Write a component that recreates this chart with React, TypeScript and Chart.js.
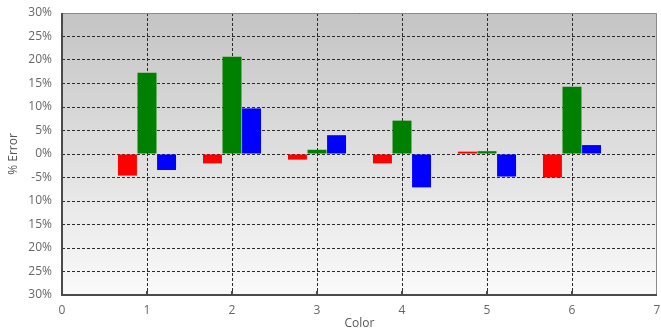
import React, { useEffect, useRef } from "react";
import { Chart, registerables } from "chart.js";

Chart.register(...registerables);

// Color index of each group
const colors = [1, 2, 3, 4, 5, 6];
// Percent error per channel
const redErr = [-4.6, -2.0, -1.2, -2.0, 0.5, -5.0];
const greenErr = [17.3, 20.7, 0.9, 7.1, 0.6, 14.3];
const blueErr = [-3.4, 9.7, 4.0, -7.1, -4.8, 1.9];
// Tick labels on the value axis, from bottom (-30) to top (+30)
const yTickLabels = ["30%", "25%", "20%", "15%", "10%", "-5%", "0%", "5%", "10%", "15%", "20%", "25%", "30%"];
const xTickLabels = ["0", "1", "2", "3", "4", "5", "6", "7"];

const FONT = "'Open Sans', 'DejaVu Sans', sans-serif";

const plotFrame = {
  id: "plotFrame",
  beforeDraw(chart: any) {
    const { ctx, chartArea: a } = chart;
    const g = ctx.createLinearGradient(0, a.top, 0, a.bottom);
    g.addColorStop(0, "#c4c4c4");
    g.addColorStop(1, "#fafafa");
    ctx.save();
    ctx.fillStyle = g;
    ctx.fillRect(a.left, a.top, a.right - a.left, a.bottom - a.top);
    ctx.restore();
  },
  afterDraw(chart: any) {
    const { ctx, chartArea: a } = chart;
    ctx.save();
    ctx.lineWidth = 1;
    ctx.strokeStyle = "#8a8a8a";
    ctx.beginPath();
    ctx.moveTo(a.left, a.top + 0.5);
    ctx.lineTo(a.right - 0.5, a.top + 0.5);
    ctx.lineTo(a.right - 0.5, a.bottom);
    ctx.stroke();
    ctx.lineWidth = 2;
    ctx.strokeStyle = "#4a4a4a";
    ctx.beginPath();
    ctx.moveTo(a.left, a.top);
    ctx.lineTo(a.left, a.bottom);
    ctx.lineTo(a.right, a.bottom);
    ctx.stroke();
    // short tick marks under the category axis
    const xs = chart.scales.x;
    ctx.lineWidth = 2;
    for (const c of colors) {
      const px = Math.round(xs.getPixelForValue(c));
      ctx.beginPath();
      ctx.moveTo(px, a.bottom - 4);
      ctx.lineTo(px, a.bottom + 1);
      ctx.stroke();
    }
    ctx.restore();
  },
};

export default function App() {
  const ref = useRef<HTMLCanvasElement>(null);

  useEffect(() => {
    const mk = (vals: number[]) => colors.map((c, i) => ({ x: c, y: vals[i] }));
    const barStyle = { categoryPercentage: 0.69, barPercentage: 0.97, borderWidth: 0 };
    const chart = new Chart(ref.current!, {
      type: "bar",
      data: {
        datasets: [
          { label: "R", data: mk(redErr), backgroundColor: "#ff0000", ...barStyle },
          { label: "G", data: mk(greenErr), backgroundColor: "#008000", ...barStyle },
          { label: "B", data: mk(blueErr), backgroundColor: "#0000ff", ...barStyle },
        ],
      },
      options: {
        animation: false,
        responsive: false,
        maintainAspectRatio: false,
        layout: { padding: { top: 13, right: 4, left: 6, bottom: 0 } },
        plugins: { legend: { display: false }, tooltip: { enabled: false } },
        scales: {
          x: {
            type: "linear",
            offset: false,
            min: 0,
            max: 7,
            border: { display: false, dash: [3, 2] },
            grid: {
              offset: false,
              color: (c: any) => (c.tick && c.tick.value > 0 && c.tick.value < 7 ? "#2a2a2a" : "rgba(0,0,0,0)"),
              lineWidth: 1,
              drawTicks: false,
            },
            ticks: {
              stepSize: 1,
              padding: 8,
              color: "#666",
              font: { family: FONT, size: 12 },
              callback: (v: any) => xTickLabels[Number(v)],
            },
            title: {
              display: true,
              text: "Color",
              color: "#555",
              font: { family: FONT, size: 12 },
              padding: { top: 0, bottom: 0 },
            },
            afterFit: (s: any) => {
              s.height = 36;
              s.paddingLeft = 0;
              s.paddingRight = 0;
            },
          } as any,
          y: {
            min: -30,
            max: 30,
            border: { display: false, dash: [3, 2] },
            grid: {
              color: "#2a2a2a",
              lineWidth: 1,
              drawTicks: false,
            },
            ticks: {
              stepSize: 5,
              padding: 10,
              color: "#666",
              font: { family: FONT, size: 12 },
              callback: (v: any) => yTickLabels[Math.round((Number(v) + 30) / 5)],
            },
            title: {
              display: true,
              text: "% Error",
              color: "#555",
              font: { family: FONT, size: 12 },
              padding: { top: 0, bottom: 0 },
            },
            afterFit: (s: any) => {
              s.width = 56;
              s.paddingTop = 0;
              s.paddingBottom = 0;
            },
          } as any,
        },
      },
      plugins: [plotFrame],
    });
    return () => chart.destroy();
  }, []);

  return (
    <div style={{ position: "fixed", left: 0, top: 0, width: 661, height: 331, background: "#fff" }}>
      <canvas ref={ref} width={661} height={331} style={{ width: 661, height: 331 }} />
    </div>
  );
}
